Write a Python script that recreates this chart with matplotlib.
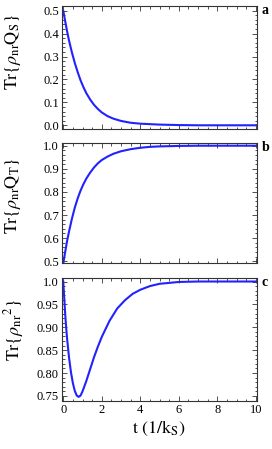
import matplotlib
matplotlib.use('Agg')
import matplotlib.pyplot as plt
from matplotlib.ticker import MultipleLocator

plt.rcParams['font.family'] = ['Liberation Serif', 'DejaVu Serif']
plt.rcParams['mathtext.fontset'] = 'stix'

# panel a: Tr{rho_nr Q_S}
t_a = [0, 0.1, 0.2, 0.3, 0.45, 0.6, 0.75, 0.9, 1.05, 1.2, 1.4, 1.6, 1.8, 2.0, 2.3, 2.6, 3.0, 3.5, 4.0, 4.5, 5.0, 6.0, 7.0, 8.0, 10.0]
val_a = [0.5, 0.455, 0.41, 0.37, 0.318, 0.272, 0.232, 0.196, 0.166, 0.14, 0.112, 0.089, 0.071, 0.056, 0.04, 0.029, 0.019, 0.011, 0.007, 0.005, 0.003, 0.001, 0.0, 0.0, 0.0]

# panel b: Tr{rho_nr Q_T}
t_b = [0, 0.1, 0.2, 0.3, 0.45, 0.6, 0.75, 0.9, 1.05, 1.2, 1.4, 1.6, 1.8, 2.0, 2.3, 2.6, 3.0, 3.5, 4.0, 4.5, 5.0, 6.0, 7.0, 8.0, 10.0]
val_b = [0.49, 0.54, 0.588, 0.628, 0.684, 0.732, 0.772, 0.806, 0.834, 0.858, 0.884, 0.906, 0.924, 0.938, 0.953, 0.965, 0.976, 0.985, 0.991, 0.995, 0.997, 0.999, 1.0, 1.0, 1.0]

# panel c: Tr{rho_nr^2}
t_c = [0, 0.05, 0.1, 0.15, 0.2, 0.3, 0.4, 0.5, 0.6, 0.7, 0.8, 0.9, 1.0, 1.2, 1.4, 1.6, 1.8, 2.0, 2.4, 2.8, 3.2, 3.6, 4.0, 4.5, 5.0, 5.5, 6.0, 7.0, 8.0, 10.0]
val_c = [1.0, 0.965, 0.93, 0.9, 0.875, 0.834, 0.802, 0.778, 0.761, 0.751, 0.748, 0.751, 0.76, 0.783, 0.809, 0.835, 0.858, 0.879, 0.914, 0.941, 0.959, 0.973, 0.982, 0.99, 0.995, 0.997, 0.999, 1.0, 1.0, 1.0]

labels = [r'$\mathrm{Tr}\{\rho_{\mathrm{nr}}\mathrm{Q}_{\mathrm{S}}\}$',
          r'$\mathrm{Tr}\{\rho_{\mathrm{nr}}\mathrm{Q}_{\mathrm{T}}\}$',
          r'$\mathrm{Tr}\{\rho_{\mathrm{nr}}{}^{2}\}$']
letters = ['a', 'b', 'c']

fig = plt.figure(figsize=(2.72, 4.49), dpi=100)
W, H = 272.0, 449.0
boxes = [(5.7, 129.3), (143.3, 263.3), (278.3, 401.0)]
axs = [fig.add_axes([61.7 / W, 1 - b / H, 195 / W, (b - t) / H]) for t, b in boxes]

series = [(t_a, val_a), (t_b, val_b), (t_c, val_c)]
ylims = [(-0.0175, 0.522), (0.491, 1.0104), (0.739, 1.007)]
yticks = [([0.0, 0.1, 0.2, 0.3, 0.4, 0.5], ['0.0', '0.1', '0.2', '0.3', '0.4', '0.5'], 0.02),
          ([0.5, 0.6, 0.7, 0.8, 0.9, 1.0], ['0.5', '0.6', '0.7', '0.8', '0.9', '1.0'], 0.02),
          ([0.75, 0.8, 0.85, 0.9, 0.95, 1.0], ['0.75', '0.80', '0.85', '0.90', '0.95', '1.0'], 0.01)]
label_y = [0.625, 0.56, 0.58]
label_x = [-0.20, -0.20, -0.185]

for i, ax in enumerate(axs):
    x, y = series[i]
    ax.plot(x, y, color='#2222ff', lw=1.5, clip_on=True)
    ax.set_xlim(-0.08, 10.04)
    ax.set_ylim(*ylims[i])
    ax.set_xticks([0, 2, 4, 6, 8, 10])
    ax.xaxis.set_minor_locator(MultipleLocator(0.5))
    ax.set_yticks(yticks[i][0])
    ax.set_yticklabels(yticks[i][1])
    ax.yaxis.set_minor_locator(MultipleLocator(yticks[i][2]))
    ax.tick_params(which='both', direction='in', top=True, right=True, labelsize=9,
                   width=0.6, color='#333333', pad=2)
    ax.tick_params(which='major', length=3.5)
    ax.tick_params(which='minor', length=1.8)
    if i < 2:
        ax.tick_params(labelbottom=False)
    for s in ax.spines.values():
        s.set_linewidth(0.8)
        s.set_color('#333333')
    ax.set_ylabel(labels[i], fontsize=13)
    ax.yaxis.set_label_coords(label_x[i], label_y[i])
    ax.text(1.025, 0.965, letters[i], transform=ax.transAxes, fontsize=10,
            fontweight='bold', ha='left', va='center')

axs[2].set_xlabel(r'$\mathrm{t\ (1/k}_{\mathrm{S}}\mathrm{)}$', fontsize=13, labelpad=2)

fig.savefig('out.png', dpi=100)
